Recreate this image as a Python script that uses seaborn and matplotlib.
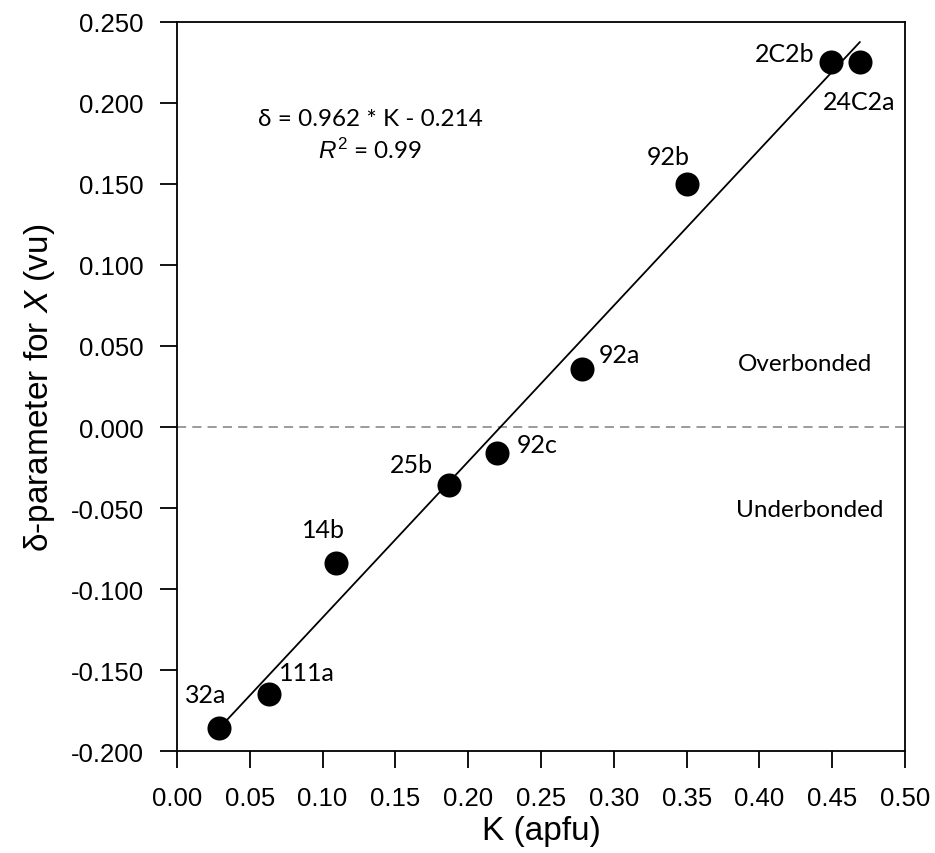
import matplotlib
matplotlib.use('Agg')
import matplotlib.pyplot as plt
import seaborn as sns
import pandas as pd

# Datos
etiquetas = ['32a', '111a', '14b', '25b', '92c', '92a', '92b', '2C2b', '24C2a']
k_apfu = [0.029, 0.063, 0.109, 0.187, 0.220, 0.278, 0.350, 0.449, 0.469]
delta = [-0.186, -0.165, -0.084, -0.036, -0.016, 0.036, 0.150, 0.225, 0.225]

# desplazamiento de cada etiqueta (puntos) y alineacion
offsets = {
    '32a': (-10, 24.5, 'center'),
    '111a': (7, 16, 'left'),
    '14b': (-9, 24.5, 'center'),
    '25b': (-12, 15, 'right'),
    '92c': (14, 6, 'left'),
    '92a': (12, 10, 'left'),
    '92b': (-13, 20, 'center'),
    '2C2b': (-12, 6.5, 'right'),
    '24C2a': (-27, -28, 'left'),
}

df = pd.DataFrame({'K': k_apfu, 'delta': delta, 'label': etiquetas})

sns.set_style('ticks')
plt.rcParams['font.family'] = ['Liberation Sans', 'DejaVu Sans']
plt.rcParams['mathtext.fontset'] = 'custom'
plt.rcParams['mathtext.rm'] = 'Liberation Sans'
plt.rcParams['mathtext.it'] = 'Liberation Sans:italic'
plt.rcParams['text.color'] = 'black'
plt.rcParams['axes.labelcolor'] = 'black'

fuente_nota = ['Lato', 'DejaVu Sans']

fig = plt.figure(figsize=(9.35, 8.54), dpi=100)
ax = fig.add_axes([0.1893, 0.1194, 0.7787, 0.8537])

ax.axhline(0, color='#808080', linestyle=(0, (6, 4)), linewidth=1.1, zorder=1)

sns.regplot(x='K', y='delta', data=df, ax=ax, ci=None, color='black',
            scatter_kws={'s': 300, 'alpha': 1, 'zorder': 3, 'linewidths': 0},
            line_kws={'linewidth': 1.3, 'zorder': 2})

for _, r in df.iterrows():
    dx, dy, ha = offsets[r['label']]
    ax.annotate(r['label'], (r['K'], r['delta']), xytext=(dx, dy),
                textcoords='offset points', ha=ha, va='center',
                fontsize=18, family=fuente_nota, color='black')

ax.text(0.265, 0.868, 'δ = 0.962 * K - 0.214', transform=ax.transAxes,
        ha='center', va='center', fontsize=17.5, family=fuente_nota)
ax.text(0.265, 0.826, r'$\it{R}^2$ = 0.99', transform=ax.transAxes,
        ha='center', va='center', fontsize=17.5, family=fuente_nota)
ax.text(0.8626, 0.532, 'Overbonded', transform=ax.transAxes, ha='center',
        va='center', fontsize=17.5, family=fuente_nota)
ax.text(0.8695, 0.331, 'Underbonded', transform=ax.transAxes, ha='center',
        va='center', fontsize=17.5, family=fuente_nota)

ax.set_xlim(0, 0.50)
ax.set_ylim(-0.200, 0.250)
ax.set_xticks([i * 0.05 for i in range(11)])
ax.set_xticklabels([f'{i * 0.05:.2f}' for i in range(11)])
yt = [-0.2 + i * 0.05 for i in range(10)]
ax.set_yticks(yt)
ax.set_yticklabels([f'{v:.3f}' for v in yt])

ax.set_xlabel('K (apfu)', fontsize=24, labelpad=4)
ax.set_ylabel(r'δ-parameter for $\it{X}$ (vu)', fontsize=24, labelpad=10)

ax.tick_params(axis='both', direction='out', length=12, width=1.3,
               labelsize=18.5, colors='black')
ax.tick_params(axis='y', pad=12)
ax.tick_params(axis='x', pad=13)
for s in ax.spines.values():
    s.set_linewidth(1.3)
    s.set_color('black')

fig.savefig('out.png', dpi=100)
